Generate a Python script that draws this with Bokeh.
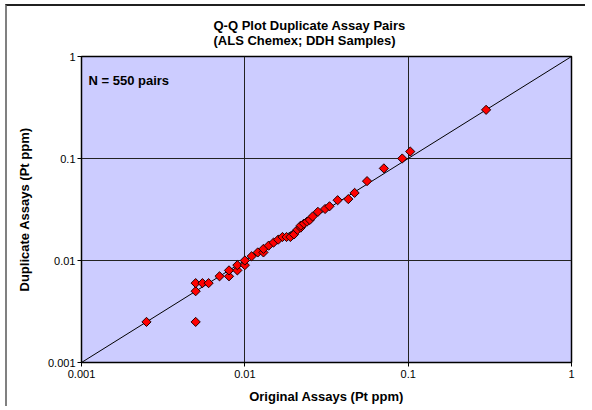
import numpy as np
from bokeh.plotting import figure
from bokeh.models import FixedTicker, Label, ColumnDataSource, Title
from bokeh.embed import file_html
from bokeh.resources import INLINE

# Q-Q quantile pairs (Pt ppm)
original = [0.0025, 0.005, 0.005, 0.005, 0.0055, 0.006, 0.007, 0.008, 0.008, 0.009,
            0.009, 0.01, 0.01, 0.011, 0.012, 0.013, 0.013, 0.014, 0.015, 0.016,
            0.017, 0.018, 0.019, 0.02, 0.021, 0.022, 0.022, 0.023, 0.024, 0.025,
            0.026, 0.028, 0.031, 0.033, 0.037, 0.043, 0.047, 0.056, 0.071, 0.092,
            0.103, 0.3]
duplicate = [0.0025, 0.0025, 0.005, 0.006, 0.006, 0.006, 0.007, 0.007, 0.008, 0.008,
             0.009, 0.009, 0.01, 0.011, 0.012, 0.012, 0.013, 0.014, 0.015, 0.016,
             0.017, 0.017, 0.017, 0.018, 0.02, 0.021, 0.022, 0.023, 0.024, 0.025,
             0.027, 0.03, 0.032, 0.034, 0.039, 0.04, 0.046, 0.06, 0.08, 0.1,
             0.117, 0.3]
line_x = [0.001, 1]
line_y = [0.001, 1]
ticks = [0.001, 0.01, 0.1, 1]
tick_labels = ["0.001", "0.01", "0.1", "1"]

FONT = "Liberation Sans"

p = figure(width=580, height=402, x_axis_type="log", y_axis_type="log",
           x_range=(0.001, 1), y_range=(0.001, 1),
           output_backend="svg", toolbar_location=None,
           min_border_left=74, min_border_right=16, min_border_top=50, min_border_bottom=46,
           background_fill_color="#CCCCFF", border_fill_color="white",
           outline_line_color="black", outline_line_width=1.5,
           styles={"margin-left": "5px", "margin-top": "4px",
                   "border-left": "2px solid #808080", "border-top": "2px solid #202020"})

for ax in (p.xaxis[0], p.yaxis[0]):
    ax.ticker = FixedTicker(ticks=ticks, minor_ticks=[])
    ax.major_label_overrides = {t: s for t, s in zip(ticks, tick_labels)}
    ax.major_label_text_font = FONT
    ax.major_label_text_font_size = "11px"
    ax.major_label_text_color = "black"
    ax.axis_label_text_font = FONT
    ax.axis_label_text_font_size = "13px"
    ax.axis_label_text_font_style = "bold"
    ax.axis_label_text_color = "black"
    ax.axis_line_color = "black"
    ax.major_tick_line_color = "black"
    ax.major_tick_out = 4
    ax.major_tick_in = 0
    ax.minor_tick_line_color = None

p.xaxis.axis_label = "Original Assays (Pt ppm)"
p.yaxis.axis_label = "Duplicate Assays (Pt ppm)"
p.xaxis.major_label_standoff = 3
p.xaxis.axis_label_standoff = 8
p.yaxis.major_label_standoff = 2
p.yaxis.axis_label_standoff = 13

p.xgrid.ticker = FixedTicker(ticks=ticks)
p.ygrid.ticker = FixedTicker(ticks=ticks)
p.grid.grid_line_color = "#222222"
p.grid.grid_line_width = 1

p.line(line_x, line_y, line_color="black", line_width=1)

src = ColumnDataSource(dict(x=original, y=duplicate))
p.scatter("x", "y", source=src, marker="square", angle=np.pi / 4, size=6.5,
          fill_color="#FF0000", line_color="#200000", line_width=1)

p.add_layout(Label(x=7, y=275, x_units="screen", y_units="screen",
                   text="N = 550 pairs", text_font=FONT, text_font_size="13px",
                   text_font_style="bold", text_color="black"))

t = Title(text="Q-Q Plot Duplicate Assay Pairs\n(ALS Chemex; DDH Samples)",
          align="left", offset=132, standoff=18,
          text_font=FONT, text_font_size="13px", text_font_style="bold",
          text_color="black", text_line_height=1.0)
p.add_layout(t, "above")

open("out.html", "w").write(file_html(p, INLINE))
